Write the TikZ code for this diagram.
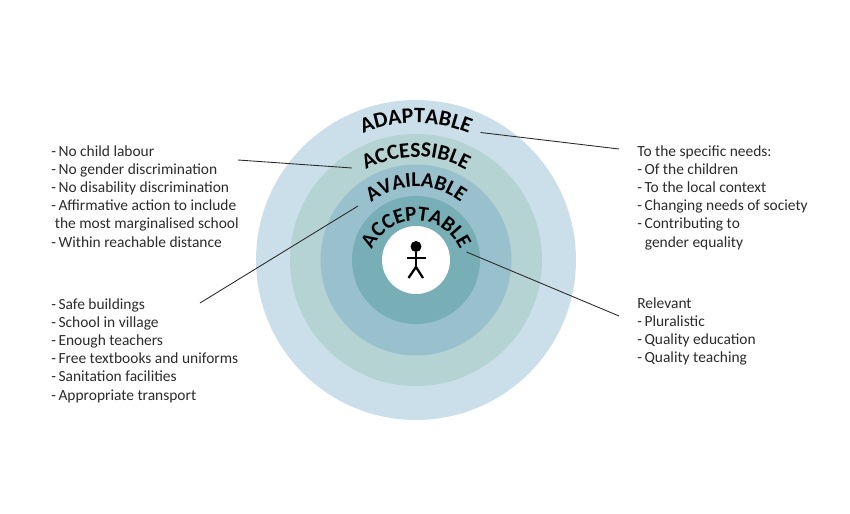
\documentclass[tikz,border=0pt]{standalone}
\usepackage{fontspec}
\setmainfont{Carlito}
\usepackage{xcolor}
\usetikzlibrary{decorations.text}

\definecolor{ringa}{HTML}{CADFE9}
\definecolor{ringb}{HTML}{B5D3D3}
\definecolor{ringc}{HTML}{98C0CD}
\definecolor{ringd}{HTML}{78AEB6}
\definecolor{inkdark}{HTML}{2B2B2B}

\tikzset{
    listtext/.style={align=left, anchor=north west, inner sep=0pt, text=inkdark,
        font=\fontsize{8.8pt}{10.35pt}\selectfont},
    leader/.style={draw=inkdark, line width=0.5pt},
    figure/.style={draw=black, line width=1.3pt}
}
\newcommand{\bul}{-\kern1.4pt}

\begin{document}
\begin{tikzpicture}[x=0.02cm, y=0.02cm]
    \useasboundingbox (0, 0) rectangle (850, 514);

    % rings
    \foreach \rad/\col in {160/ringa, 126/ringb, 95.5/ringc, 64/ringd, 34/white} {
        \fill[\col] (416, 254) circle[radius=\rad];
    }

    % ring labels
    \foreach \cy/\rad/\size/\word in {254/137/12.5/ADAPTABLE, 254/103/12.3/ACCESSIBLE, 254/73/12/AVAILABLE, 245/48/12/ACCEPTABLE} {
        \path[decorate, decoration={text along path, text align=center,
                text={|\fontsize{\size pt}{14pt}\selectfont\bfseries|\word}}]
            (416, \cy) ++(180:\rad) arc[start angle=180, end angle=0, radius=\rad];
    }

    % child
    \node[circle, fill=black, minimum size=0.22cm, inner sep=0pt] (head) at (416, 267.5) {};
    \coordinate (hip) at (416, 247);
    \coordinate (armL) at (406.5, 256);
    \coordinate (armR) at (425.5, 256);
    \coordinate (footL) at (408.5, 236);
    \coordinate (footR) at (423, 236);
    \draw[figure] (head) -- (hip);
    \draw[figure] (armL) -- (armR);
    \draw[figure] (footL) -- (hip) -- (footR);

    % lists
    \node[listtext] (accessibleList) at (51, 369) {
        \bul No child labour \\
        \bul No gender discrimination \\
        \bul No disability discrimination \\
        \bul Affirmative action to include \\
        \hspace{0.07cm}the most marginalised school \\
        \bul Within reachable distance
    };
    \node[listtext] (availableList) at (51, 216) {
        \bul Safe buildings \\
        \bul School in village \\
        \bul Enough teachers \\
        \bul Free textbooks and uniforms \\
        \bul Sanitation facilities \\
        \bul Appropriate transport
    };
    \node[listtext] (adaptableList) at (637, 369) {
        To the specific needs: \\
        \bul Of the children \\
        \bul To the local context \\
        \bul Changing needs of society \\
        \bul Contributing to \\
        \hspace{0.15cm}gender equality
    };
    \node[listtext] (acceptableList) at (637, 217) {
        Relevant \\
        \bul Pluralistic \\
        \bul Quality education \\
        \bul Quality teaching
    };

    % leaders
    \coordinate (adaptableIn) at (480.5, 381.5);
    \coordinate (adaptableOut) at (619, 365);
    \coordinate (accessibleIn) at (352, 346);
    \coordinate (accessibleOut) at (238, 354);
    \coordinate (availableIn) at (358, 308);
    \coordinate (availableOut) at (200, 211);
    \coordinate (acceptableIn) at (466.5, 262);
    \coordinate (acceptableOut) at (619, 198);
    \draw[leader] (adaptableIn) -- (adaptableOut);
    \draw[leader] (accessibleIn) -- (accessibleOut);
    \draw[leader] (availableIn) -- (availableOut);
    \draw[leader] (acceptableIn) -- (acceptableOut);
\end{tikzpicture}
\end{document}
